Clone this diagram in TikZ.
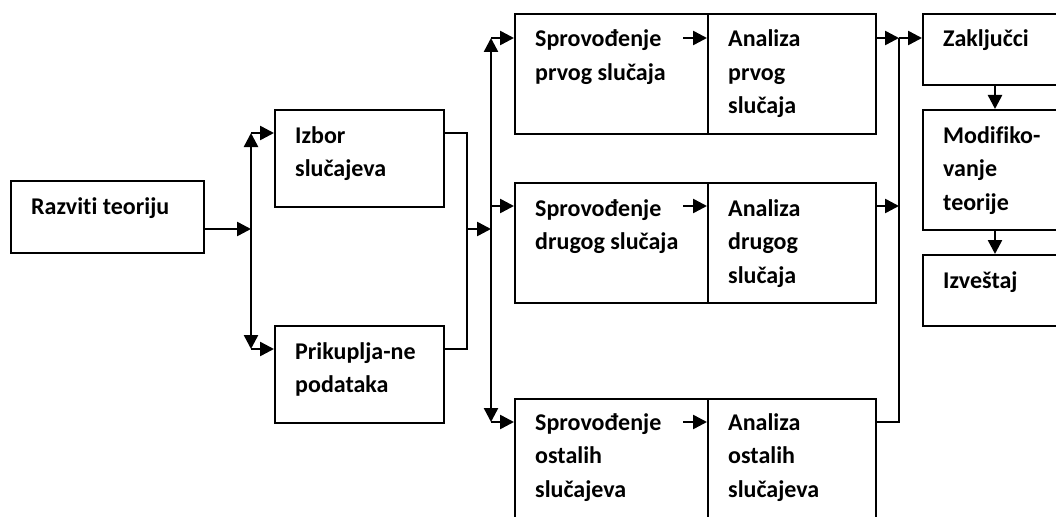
\documentclass[tikz,border=0pt]{standalone}
\usepackage{fontspec}
\setmainfont{Carlito}[Ligatures=NoCommon]
\usetikzlibrary{arrows.meta, calc, positioning}
\tikzset{
    okvir/.style 2 args={draw, line width=2pt, anchor=north west, inner sep=0pt,
      minimum width=#1, minimum height=#2},
    tekst/.style={anchor=base west, inner sep=0pt, font=\bfseries\fontsize{24}{33.5}\selectfont},
    veza/.style={line width=2.5pt, -{Triangle[length=14pt, width=14pt]}},
    dvostrana/.style={line width=2.5pt, {Triangle[length=14pt, width=14pt]}-{Triangle[length=14pt, width=14pt]}},
    linija/.style={line width=2pt},
  }
\newcommand{\redovi}[1]{\parbox[t]{6cm}{#1}}

\begin{document}
\begin{tikzpicture}[x=1pt, y=-1pt]
            \useasboundingbox (0,0) rectangle (1056,516);
            \clip (0,0) rectangle (1056,516);
            % okviri
            \node[okvir={193pt}{72pt}] (razviti) at (10,180) {};
            \node[okvir={169pt}{97pt}] (izbor) at (274,109) {};
            \node[okvir={169pt}{97pt}] (prikupljanje) at (274,325) {};
            \foreach \red/\y/\h in {1/13/120, 2/182/120, 3/398/140} {
              \node[okvir={193pt}{\h pt}] (sprovodjenje\red) at (514,\y) {};
              \node[okvir={168pt}{\h pt}] (analiza\red) at (707,\y) {};
            }
            \node[okvir={150pt}{71pt}] (zakljucci) at (922,13) {};
            \node[okvir={150pt}{120pt}] (modifikovanje) at (922,109) {};
            \node[okvir={150pt}{71pt}] (izvestaj) at (922,254) {};
            % tekstovi
            \node[tekst] (razvitiT) at ($(razviti.north west)+(21,34)$) {Razviti teoriju};
            \node[tekst] (izborT) at ($(izbor.north west)+(21,34)$) {\redovi{Izbor\\slučajeva}};
            \node[tekst] (prikupljanjeT) at ($(prikupljanje.north west)+(21,34)$) {\redovi{Prikuplja-ne\\podataka}};
            \node[tekst] (sprovodjenje1T) at ($(sprovodjenje1.north west)+(21,34)$) {\redovi{Sprovođenje\\prvog slučaja}};
            \node[tekst] (analiza1T) at ($(analiza1.north west)+(21,34)$) {\redovi{Analiza\\prvog\\slučaja}};
            \node[tekst] (sprovodjenje2T) at ($(sprovodjenje2.north west)+(21,34)$) {\redovi{Sprovođenje\\drugog slučaja}};
            \node[tekst] (analiza2T) at ($(analiza2.north west)+(21,34)$) {\redovi{Analiza\\drugog\\slučaja}};
            \node[tekst] (sprovodjenje3T) at ($(sprovodjenje3.north west)+(21,32)$) {\redovi{Sprovođenje\\ostalih\\slučajeva}};
            \node[tekst] (analiza3T) at ($(analiza3.north west)+(21,32)$) {\redovi{Analiza\\ostalih\\slučajeva}};
            \node[tekst] (zakljucciT) at ($(zakljucci.north west)+(21,34)$) {Zaključci};
            \node[tekst] (modifikovanjeT) at ($(modifikovanje.north west)+(21,34)$) {\redovi{Modifiko-\\vanje\\teorije}};
            \node[tekst] (izvestajT) at ($(izvestaj.north west)+(21,34)$) {Izveštaj};
            % racve
            \coordinate (k1) at (251,229);
            \coordinate (k1g) at (251,133);
            \coordinate (k1d) at (251,349);
            \coordinate (s1) at (467,229);
            \coordinate (k2) at (491,229);
            \coordinate (k2g) at (491,38);
            \coordinate (k2s) at (491,206);
            \coordinate (k2d) at (491,422);
            \coordinate (s2) at (899,38);
            \coordinate (s2d) at (899,422);
            \coordinate (dolex) at (995,0);
            % veze
            \draw[veza] (razviti.east |- k1) -- (k1);
            \draw[dvostrana] (k1g) -- (k1d);
            \draw[veza] (k1g) -- (k1g -| izbor.west);
            \draw[veza] (k1d) -- (k1d -| prikupljanje.west);
            \draw[linija] (izbor.east |- k1g) -| (s1) |- (prikupljanje.east |- k1d);
            \draw[veza] (s1) -- (k2);
            \draw[dvostrana] (k2g) -- (k2d);
            \draw[veza] (k2g) -- (k2g -| sprovodjenje1.west);
            \draw[veza] (k2s) -- (k2s -| sprovodjenje2.west);
            \draw[veza] (k2d) -- (k2d -| sprovodjenje3.west);
            \draw[veza] ($(analiza1.west |- k2g)+(-24,0)$) -- (analiza1.west |- k2g);
            \draw[veza] ($(analiza2.west |- k2s)+(-24,0)$) -- (analiza2.west |- k2s);
            \draw[veza] ($(analiza3.west |- k2d)+(-24,0)$) -- (analiza3.west |- k2d);
            \draw[veza] (analiza1.east |- s2) -- (s2);
            \draw[veza] (analiza2.east |- k2s) -- (k2s -| s2);
            \draw[linija] (analiza3.east |- s2d) -- (s2d) -- (s2);
            \draw[veza] (s2) -- (s2 -| zakljucci.west);
            \draw[veza] (zakljucci.south -| dolex) -- (modifikovanje.north -| dolex);
            \draw[veza] (modifikovanje.south -| dolex) -- (izvestaj.north -| dolex);
        \end{tikzpicture}
\end{document}
